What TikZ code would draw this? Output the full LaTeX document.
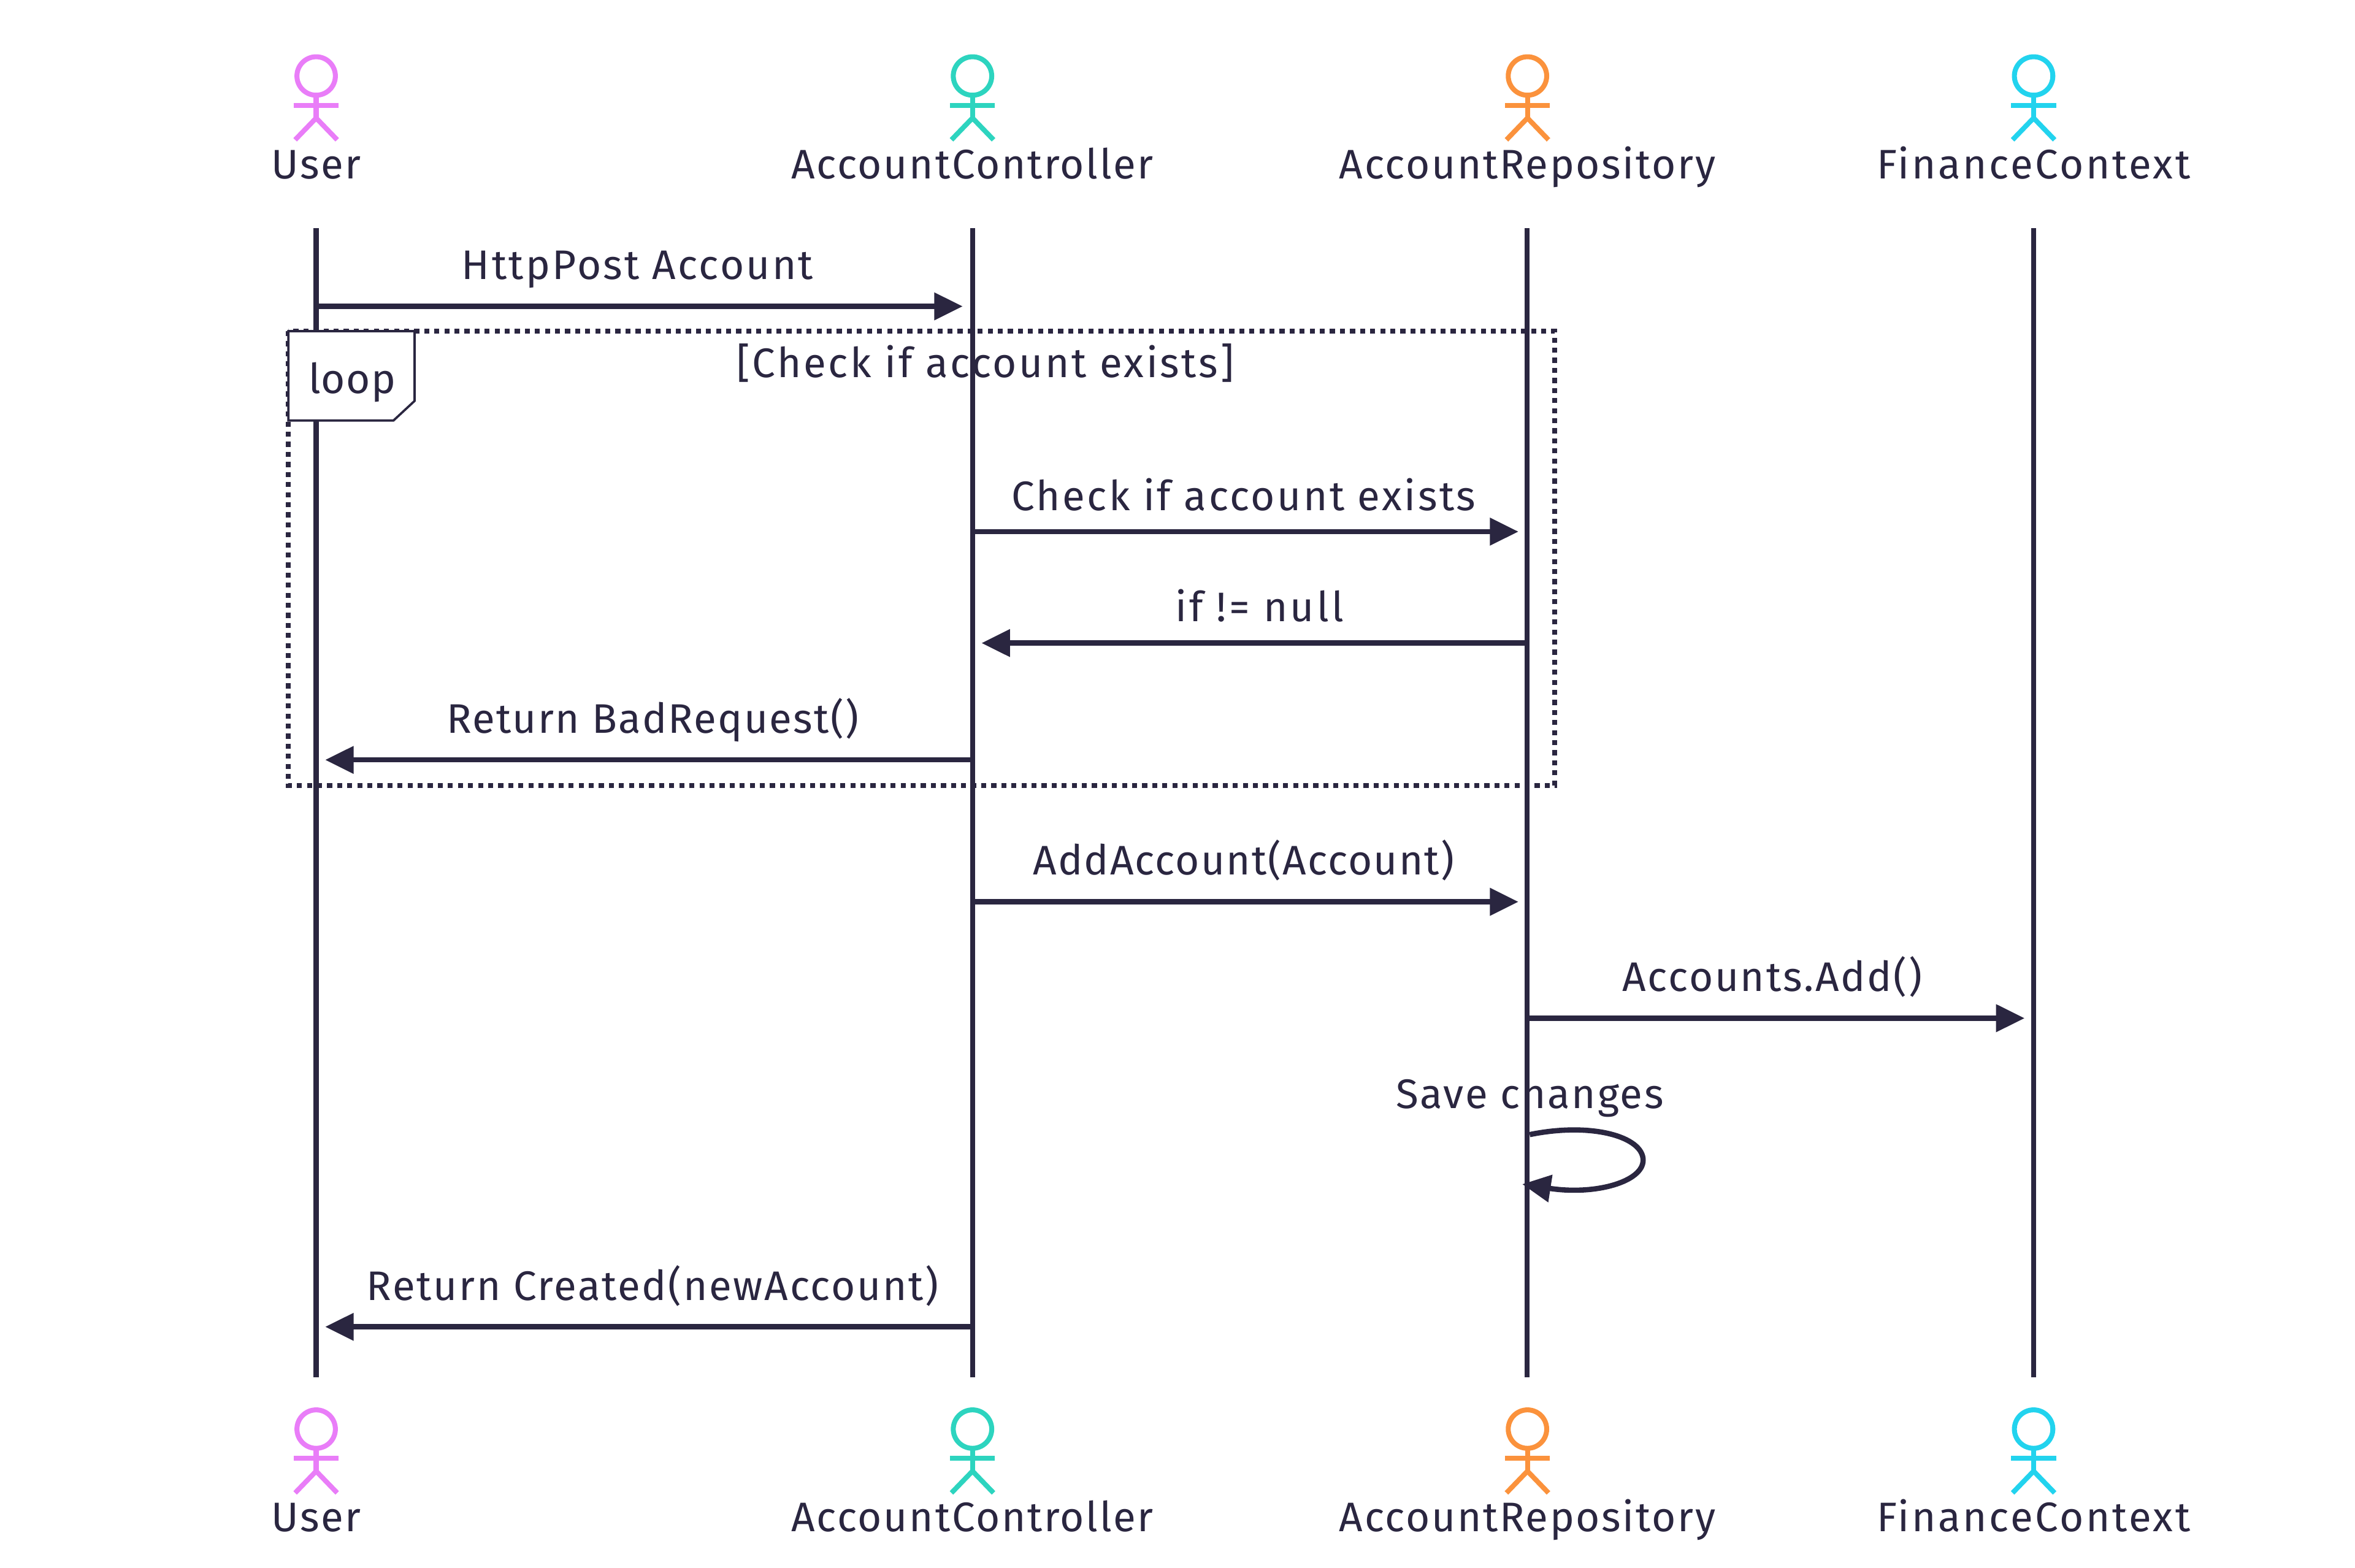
\documentclass[tikz,border=0pt]{standalone}
\usepackage{fontspec}
\setmainfont{Fira Sans}
\usetikzlibrary{arrows.meta}
\definecolor{ink}{HTML}{2A2640}
\definecolor{cuser}{HTML}{E97DF8}
\definecolor{cctrl}{HTML}{2DD4BF}
\definecolor{crepo}{HTML}{FB923C}
\definecolor{cfin}{HTML}{22D3EE}
\newcommand{\lsfont}[1]{\fontsize{27.5}{32}\selectfont\addfontfeature{LetterSpace=#1}}
\tikzset{
  lifeline/.style={draw=ink,line width=3.4pt},
  msg/.style={draw=ink,line width=3.5pt,-{Triangle[length=19pt,width=17.7pt]}},
  txt/.style={anchor=base,inner sep=0pt,outer sep=0pt,text=ink,font=\lsfont{4}},
  ls/.style={font=\lsfont{#1}},
  actorline/.style={line width=3.3pt,fill=none},
}
\newcommand{\actorfig}[4]{% name, x, y of head centre, colour
  \coordinate (#1) at (#2,#3);
  \draw[actorline,draw=#4] (#2,#3) circle[radius=12.8];
  \draw[actorline,draw=#4] (#2,#3+14) -- (#2,#3+29);
  \draw[actorline,draw=#4] (#2-15,#3+19.5) -- (#2+15,#3+19.5);
  \draw[actorline,draw=#4] (#2-14,#3+42.5) -- (#2,#3+28) -- (#2+14,#3+42.5);
}
\begin{document}
\begin{tikzpicture}[x=1pt,y=-1pt]
\useasboundingbox (0,0) rectangle (1568,1043.7);
% labels under the lifelines
\node[txt,ls=5.4] (tCheckHead) at (656,251.5) {[Check if account exists]};
\node[txt,ls=4] (tSave) at (1018.5,738) {Save changes};
% lifelines
\coordinate (uT) at (210.5,152); \coordinate (uB) at (210.5,917);
\coordinate (cT) at (647.5,152); \coordinate (cB) at (647.5,917);
\coordinate (rT) at (1016.8,152); \coordinate (rB) at (1016.8,917);
\coordinate (fT) at (1354,152); \coordinate (fB) at (1354,917);
\draw[lifeline] (uT) -- (uB);
\draw[lifeline] (cT) -- (cB);
\draw[lifeline] (rT) -- (rB);
\draw[lifeline] (fT) -- (fB);
% actors
\actorfig{aU}{210.5}{50.6}{cuser}
\actorfig{aC}{647.5}{50.6}{cctrl}
\actorfig{aR}{1017}{50.6}{crepo}
\actorfig{aF}{1354}{50.6}{cfin}
\actorfig{bU}{210.5}{951.6}{cuser}
\actorfig{bC}{647.5}{951.6}{cctrl}
\actorfig{bR}{1017}{951.6}{crepo}
\actorfig{bF}{1354}{951.6}{cfin}
\node[txt] (nU) at (210.5,119) {User};
\node[txt] (nC) at (647.5,119) {AccountController};
\node[txt] (nR) at (1017,119) {AccountRepository};
\node[txt,ls=5.3] (nF) at (1354,119) {FinanceContext};
\node[txt] (mU) at (210.5,1020) {User};
\node[txt] (mC) at (647.5,1020) {AccountController};
\node[txt] (mR) at (1017,1020) {AccountRepository};
\node[txt,ls=5.3] (mF) at (1354,1020) {FinanceContext};
% loop frame
\draw[draw=ink,line width=3.3pt,dash pattern=on 3.35pt off 3.35pt] (192,220.5) rectangle (1035.2,523);
\draw[draw=ink,line width=1.5pt,fill=white] (192,220.5) -- (276,220.5) -- (276,267) -- (262,280) -- (192,280) -- cycle;
\node[txt,ls=2] (tLoop) at (234.5,262) {loop};
% messages
\coordinate (a1) at (212,204); \coordinate (b1) at (641,204);
\coordinate (a2) at (649,354); \coordinate (b2) at (1011,354);
\coordinate (a3) at (1015,428.2); \coordinate (b3) at (653.5,428.2);
\coordinate (a4) at (646,506); \coordinate (b4) at (216.5,506);
\coordinate (a5) at (649,600.5); \coordinate (b5) at (1011,600.5);
\coordinate (a6) at (1018.5,678); \coordinate (b6) at (1348,678);
\coordinate (a7) at (646,883.5); \coordinate (b7) at (216.5,883.5);
\coordinate (a8) at (1018.5,755.5); \coordinate (b8) at (1013.5,788.5);
\draw[msg] (a1) -- (b1);
\draw[msg] (a2) -- (b2);
\draw[msg] (a3) -- (b3);
\draw[msg] (a4) -- (b4);
\draw[msg] (a5) -- (b5);
\draw[msg] (a6) -- (b6);
\draw[msg] (a7) -- (b7);
\draw[msg] (a8) .. controls (1060,747) and (1094,757) .. (1094,772.5) .. controls (1094,787) and (1062,796) .. (b8);
\node[txt,ls=4.9] (t1) at (424.5,186) {HttpPost Account};
\node[txt,ls=5.2] (t2) at (828,340) {Check if account exists};
\node[txt,ls=6.2] (t3) at (838.5,414) {if != null};
\node[txt,ls=3.4] (t4) at (434.5,488) {Return BadRequest()};
\node[txt,ls=3.2] (t5) at (828,582.5) {AddAccount(Account)};
\node[txt] (t6) at (1180,660) {Accounts.Add()};
\node[txt] (t7) at (434.5,866) {Return Created(newAccount)};
\end{tikzpicture}
\end{document}
